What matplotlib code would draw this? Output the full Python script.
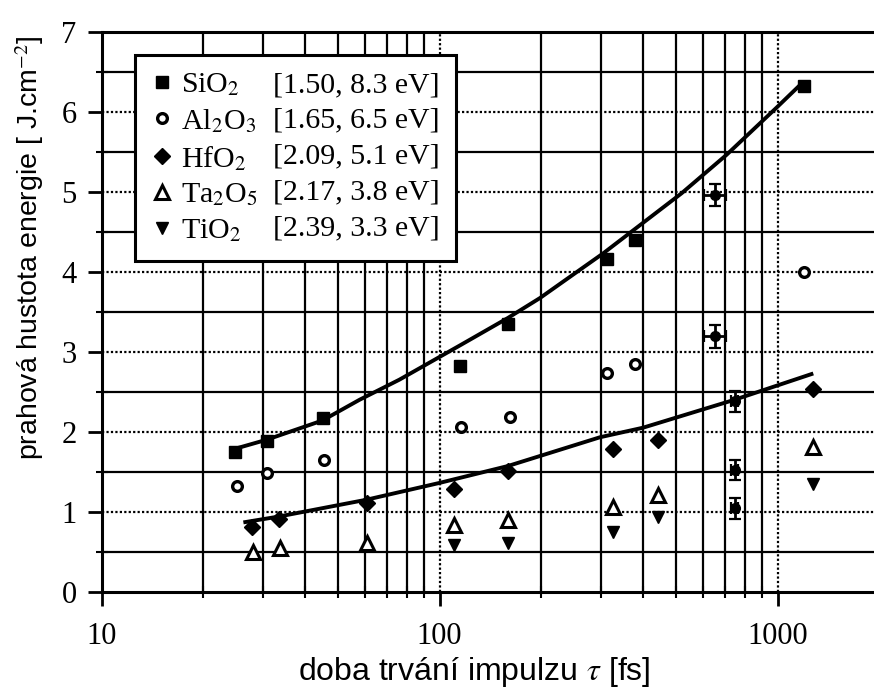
import numpy as np
import matplotlib.pyplot as plt
from matplotlib.lines import Line2D

plt.rcParams['mathtext.fontset'] = 'stix'

# ----- data -----
sio2_t = [24.8, 30.8, 45.3, 115, 159, 312, 378, 1196]
sio2_f = [1.75, 1.88, 2.17, 2.82, 3.34, 4.16, 4.40, 6.32]

al2o3_t = [25.1, 30.8, 45.5, 116, 161, 312, 378, 1196]
al2o3_f = [1.32, 1.48, 1.65, 2.06, 2.18, 2.73, 2.84, 4.00]

hfo2_t = [27.8, 33.5, 60.8, 110, 159, 326, 443, 1274]
hfo2_f = [0.81, 0.905, 1.105, 1.28, 1.51, 1.78, 1.90, 2.53]

ta2o5_t = [28.0, 33.7, 60.8, 110, 159, 326, 443, 1274]
ta2o5_f = [0.50, 0.54, 0.61, 0.83, 0.90, 1.06, 1.21, 1.81]

tio2_t = [110, 159, 326, 443, 1274]
tio2_f = [0.58, 0.61, 0.75, 0.93, 1.35]

# points with error bars (one per material)
err_t = [652, 652, 747, 747, 747]
err_f = [4.96, 3.19, 2.38, 1.52, 1.04]
err_tlo = [604, 604, 728, 728, 728]
err_thi = [705, 705, 766, 766, 766]
err_df = [0.14, 0.14, 0.13, 0.13, 0.13]

# fitted curves
fit_hi_t = [24.5, 30.8, 45, 58, 76, 115, 159, 198, 305, 520, 706, 993, 1170]
fit_hi_f = [1.78, 1.90, 2.14, 2.40, 2.65, 3.08, 3.42, 3.67, 4.23, 4.98, 5.46, 6.05, 6.34]
fit_lo_t = [26.6, 33.5, 60.8, 100, 159, 298, 400, 747, 1260]
fit_lo_f = [0.87, 0.94, 1.15, 1.36, 1.57, 1.93, 2.05, 2.40, 2.72]

names = [r'SiO$_2$', r'Al$_2$O$_3$', r'HfO$_2$', r'Ta$_2$O$_5$', r'TiO$_2$']
brackets = ['[1.50, 8.3 eV]', '[1.65, 6.5 eV]', '[2.09, 5.1 eV]',
            '[2.17, 3.8 eV]', '[2.39, 3.3 eV]']

fig = plt.figure(figsize=(8.74, 6.97), dpi=100)
ax = fig.add_axes([0.1164, 0.1511, 0.8836, 0.8034])

ax.set_xscale('log')
ax.set_xlim(10, 1930)
ax.set_ylim(0, 7)

# grid: decades dotted, minor decades solid; integers dotted, halves solid
for v in [100, 1000]:
    ax.axvline(v, color='black', lw=1.6, ls=(0, (1, 1)), zorder=1)
for d in [10, 100, 1000]:
    for m in range(2, 10):
        if d * m < 1930:
            ax.axvline(d * m, color='black', lw=1.6, zorder=1)
for v in range(1, 7):
    ax.axhline(v, color='black', lw=1.6, ls=(0, (1, 1)), zorder=1)
for v in np.arange(0.5, 7, 1.0):
    ax.axhline(v, color='black', lw=1.6, zorder=1)

ax.plot(fit_hi_t, fit_hi_f, color='black', lw=2.8, zorder=3)
ax.plot(fit_lo_t, fit_lo_f, color='black', lw=2.8, zorder=3)

mk = dict(color='black', ls='none', zorder=4)
ax.plot(sio2_t, sio2_f, marker='s', ms=8, **mk)
ax.plot(al2o3_t, al2o3_f, marker='o', ms=7, mfc='white', mew=2.4, **mk)
ax.plot(hfo2_t, hfo2_f, marker='D', ms=8, **mk)
ax.plot(ta2o5_t, ta2o5_f, marker='^', ms=10.5, mfc='white', mew=2.2, **mk)
ax.plot(tio2_t, tio2_f, marker='v', ms=8.5, **mk)

xerr = [np.array(err_t) - np.array(err_tlo), np.array(err_thi) - np.array(err_t)]
ax.errorbar(err_t, err_f, xerr=xerr, yerr=err_df, fmt='o', ms=7,
            color='black', ecolor='black', elinewidth=2, capsize=4,
            capthick=1.6, zorder=4)

ax.spines['right'].set_visible(False)
for s in ['left', 'bottom', 'top']:
    ax.spines[s].set_linewidth(2.2)
    ax.spines[s].set_zorder(5)

ax.set_yticks(range(0, 8))
ax.set_yticks(np.arange(0.5, 7, 1.0), minor=True)
ax.set_xticks([10, 100, 1000])
ax.set_xticklabels(['10', '100', '1000'])
ax.tick_params(axis='both', which='major', direction='out', length=10,
               width=2, pad=8, labelsize=22)
ax.tick_params(axis='both', which='minor', direction='inout', length=8,
               width=1.5, labelbottom=False)
ax.tick_params(axis='x', which='major', pad=12)
for lab in ax.get_xticklabels() + ax.get_yticklabels():
    lab.set_family('Liberation Serif')

# legend: formula column + bracket column
handles = [
    Line2D([], [], color='black', marker='s', ls='none', ms=8),
    Line2D([], [], color='black', marker='o', ls='none', ms=7, mfc='white', mew=2.4),
    Line2D([], [], color='black', marker='D', ls='none', ms=8),
    Line2D([], [], color='black', marker='^', ls='none', ms=10.5, mfc='white', mew=2.2),
    Line2D([], [], color='black', marker='v', ls='none', ms=8.5),
]
blank = [Line2D([], [], ls='none') for _ in brackets]
leg = ax.legend(handles + blank, names + brackets, ncol=2, loc='upper left',
                bbox_to_anchor=(0.043, 0.959), frameon=True, fancybox=False,
                edgecolor='black', framealpha=1, handlelength=0.7,
                handletextpad=0.3, columnspacing=-0.5, labelspacing=0.3,
                borderpad=0.55, borderaxespad=0,
                prop={'family': 'Liberation Serif', 'size': 21.5})
leg.get_frame().set_linewidth(2.2)
leg.set_zorder(6)

fig.text(0.034, 0.645, r'prahová hustota energie [ J.cm$^{-2}$]', rotation=90,
         ha='center', va='center', fontsize=20.5, family='Liberation Sans')
fig.text(0.543, 0.036, r'doba trvání impulzu $\tau$ [fs]', ha='center',
         va='center', fontsize=23, family='Liberation Sans')

fig.savefig('out.png', dpi=100)
